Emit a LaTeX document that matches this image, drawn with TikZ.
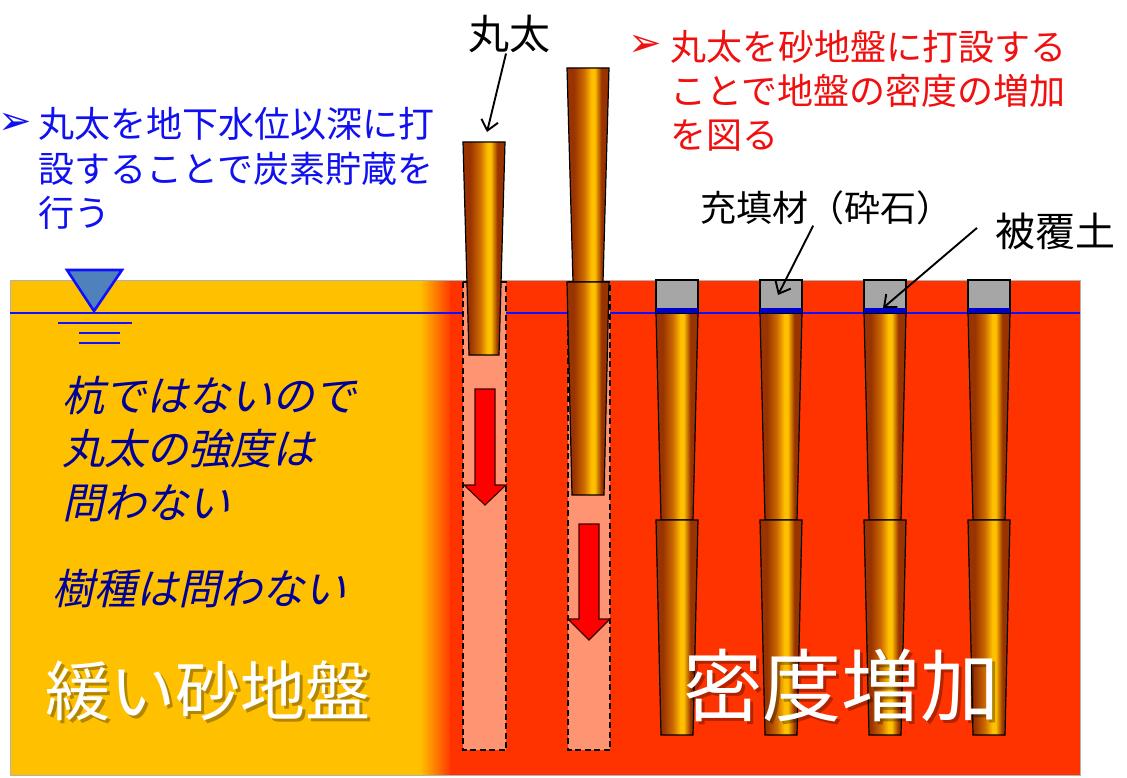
\documentclass[tikz,border=0pt]{standalone}
\usepackage{fontspec}
\usepackage{xcolor}
\usetikzlibrary{arrows.meta}
\setmainfont{Noto Sans CJK JP}
\newfontfamily\jpslant[FakeSlant=0.22]{Noto Sans CJK JP}
\newfontfamily\marksym{DejaVu Sans}

\definecolor{soilyellow}{HTML}{FFC000}
\definecolor{soilred}{HTML}{FF3300}
\definecolor{zonepink}{HTML}{FF9473}
\definecolor{gravel}{HTML}{A6A6A6}
\definecolor{coverblue}{HTML}{0000CC}
\definecolor{waterblue}{HTML}{1010FF}
\definecolor{triblue}{HTML}{4F81BD}
\definecolor{logdark}{HTML}{993300}
\definecolor{logmid}{HTML}{CC6A00}
\definecolor{logyellow}{HTML}{FFC000}
\definecolor{pushred}{HTML}{FF0000}
\definecolor{notered}{HTML}{F01010}
\definecolor{noteblue}{HTML}{1010F0}
\definecolor{navy}{HTML}{000099}

% light stripe a little right of the middle, dark bark on both sides
\pgfdeclarehorizontalshading{logwood}{100bp}{color(0bp)=(logdark); color(33bp)=(logdark);
  color(45bp)=(logmid); color(54bp)=(logyellow); color(58bp)=(logyellow);
  color(66bp)=(logdark); color(100bp)=(logdark)}

% one tapered log piece: left x, top, bottom, taper
\newcommand{\logpart}[4]{\path[logpiece] (#1,#2) -- (#1+42,#2) -- (#1+42-#4,#3) -- (#1+#4,#3) -- cycle;}
% downward block arrow: centre x, top, head start, tip
\newcommand{\pushdown}[4]{\draw[pusharrow] (#1-10,#2) -- (#1+10,#2) -- (#1+10,#3) -- (#1+21,#3)
  -- (#1,#4) -- (#1-21,#3) -- (#1-10,#3) -- cycle;}

\begin{document}
\begin{tikzpicture}[x=1pt,y=-1pt,
  logpiece/.style={shade,shading=logwood,draw=black,line width=1.2pt},
  zonebox/.style={fill=zonepink,draw=black,line width=1.8pt,dash pattern=on 6pt off 3.5pt},
  pusharrow/.style={fill=pushred,draw=black!75!red,line width=1.1pt},
  capstone/.style={fill=gravel,draw=black,line width=1.2pt},
  note/.style={inner sep=0pt,anchor=base west,align=left},
  bullet/.style={inner sep=0pt,font=\marksym\fontsize{40}{40}\selectfont},
  italicnote/.style={note,text=navy,font=\jpslant\fontsize{42}{53.5}\selectfont},
  bigword/.style={note,text=white},
  shadowword/.style={note,text=black,opacity=.3},
  callout/.style={line width=1.9pt,-{Straight Barb[length=10pt,width=17pt]}}]
\useasboundingbox (0,0) rectangle (1127,778);
\fill[white] (0,0) rectangle (1127,778);

% ground: loose sand on the left, densified sand on the right
\fill[soilyellow] (10,280) rectangle (422,775);
\shade[left color=soilyellow,right color=soilred] (420,280) rectangle (452,775);
\fill[soilred] (450,280) rectangle (1080,775);
\draw[black!30,line width=.8pt] (10,280) rectangle (1080,775);
\draw[waterblue,line width=1.5pt] (10,313) -- (1080,313);

% driving zones
\draw[zonebox] (463,282) rectangle (506,750);
\draw[zonebox] (568,282) rectangle (610,750);
\logpart{463}{142}{355}{6}
\logpart{567}{68}{282}{6}
\logpart{567}{282}{495}{5}
\pushdown{485}{389}{485}{505}
\pushdown{589}{524}{619}{640}

% finished piles with gravel cap
\foreach \px in {656,760,864,968}{
  \logpart{\px}{313}{520}{5}
  \logpart{\px}{520}{735}{5}
  \draw[capstone] (\px,280) rectangle (\px+42,313);
  \fill[coverblue] (\px,308) rectangle (\px+42,313);
}

% water level mark
\draw[waterblue,line width=2.6pt,fill=triblue,line join=miter] (67,270) -- (122,270) -- (94,311) -- cycle;
\draw[waterblue,line width=1.4pt] (58,323) -- (132,323) (79,333) -- (120,333) (79,343) -- (120,343);

% notes (multi-line nodes sit on their last baseline)
\node[bullet,text=noteblue] (carbonmark) at (15,124) {➢};
\node[note,text=noteblue,font=\fontsize{36}{44.5}\selectfont] (carbonnote) at (38,227)
  {丸太を地下水位以深に打\\設することで炭素貯蔵を\\行う};
\node[bullet,text=notered] (densemark) at (645,46) {➢};
\node[note,text=notered,font=\fontsize{36}{44}\selectfont] (densenote) at (670,149)
  {丸太を砂地盤に打設する\\ことで地盤の密度の増加\\を図る};

\node[italicnote] (strengthnote) at (62,518) {杭ではないので\\丸太の強度は\\問わない};
\node[italicnote] (speciesnote) at (52,604) {樹種は問わない};

\node[shadowword,font=\fontsize{65}{65}\selectfont] at (48,718) {緩い砂地盤};
\node[bigword,font=\fontsize{65}{65}\selectfont] (loosesand) at (45,715) {緩い砂地盤};
\node[shadowword,font=\fontsize{79}{79}\selectfont] at (686,718) {密度増加};
\node[bigword,font=\fontsize{79}{79}\selectfont] (densesand) at (683,715) {密度増加};

% labels with leaders
\node[note,anchor=base,font=\fontsize{41}{41}\selectfont] (loglabel) at (509,50) {丸太};
\coordinate (logtip) at (487,132);
\draw[callout] ([xshift=-3pt]loglabel.south) -- (logtip);

\node[note,font=\fontsize{36}{36}\selectfont] (filllabel) at (700,222) {充填材（砕石）};
\coordinate (filltip) at (778,295);
\draw[callout] ([xshift=-13pt]filllabel.south) -- (filltip);

\node[note,font=\fontsize{40}{40}\selectfont] (coverlabel) at (995,247) {被覆土};
\coordinate (covertip) at (883,308);
\draw[callout] ([xshift=-18pt,yshift=4pt]coverlabel.west) -- (covertip);
\end{tikzpicture}
\end{document}
